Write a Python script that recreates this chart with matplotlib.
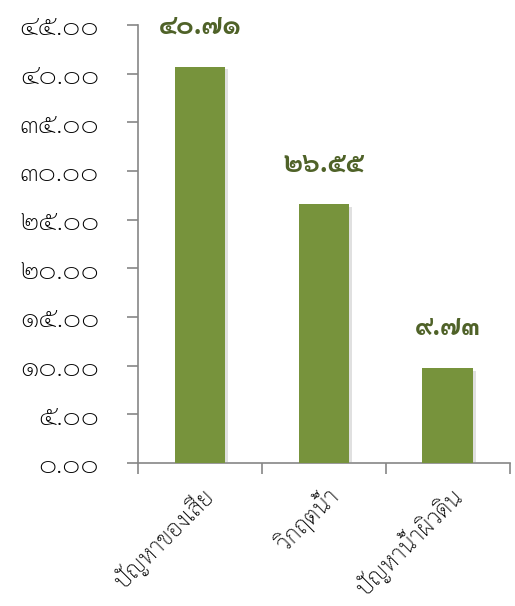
import matplotlib
matplotlib.use("Agg")
import numpy as np
import matplotlib.pyplot as plt
import matplotlib.ticker as mticker
import matplotlib.patheffects as pe
import matplotlib.transforms as mtransforms

categories = ["ปัญหาของเสีย", "วิกฤตน้ำ", "ปัญหาน้ำผิวดิน"]
values = [40.71, 26.55, 9.73]
yticks = [0, 5, 10, 15, 20, 25, 30, 35, 40, 45]

THAI = str.maketrans("0123456789", "๐๑๒๓๔๕๖๗๘๙")

def thai_num(v, fmt):
    return (fmt % v).translate(THAI)

plt.rcParams['font.family'] = ['Sarabun', 'DejaVu Sans']

fig = plt.figure(figsize=(5.15, 6.06), dpi=100)
ax = fig.add_axes([0.268, 0.236, 0.722, 0.723])

x = np.arange(len(categories))
bars = ax.bar(x, values, width=0.41, color='#77933C', zorder=3)
for b in bars:
    b.set_path_effects([pe.SimplePatchShadow(offset=(2, -2), shadow_rgbFace='#999999', alpha=0.3),
                        pe.Normal()])

for xi, v in zip(x, values):
    ax.annotate(thai_num(v, '%.2f'), (xi, v), xytext=(0, 29), textcoords='offset points',
                ha='center', va='center', fontsize=19, fontweight='bold', color='#4F6228')

ax.set_xlim(-0.5, 2.5)
ax.set_ylim(0, 45)

ax.yaxis.set_major_locator(mticker.FixedLocator(yticks))
ax.yaxis.set_major_formatter(mticker.FuncFormatter(lambda v, p: thai_num(v, '%.2f')))

ax.set_xticks(x)
ax.set_xticklabels(categories, rotation=45, ha='right', va='top', rotation_mode='anchor',
                   fontweight='light')
ax.xaxis.set_minor_locator(mticker.FixedLocator([-0.5, 0.5, 1.5, 2.5]))
shift = mtransforms.ScaledTranslation(-16 / 72, 0, fig.dpi_scale_trans)
for lbl in ax.get_xticklabels():
    lbl.set_transform(lbl.get_transform() + shift)

for s in ['top', 'right']:
    ax.spines[s].set_visible(False)
for s in ['left', 'bottom']:
    ax.spines[s].set_color('#868686')
    ax.spines[s].set_linewidth(1.2)

ax.tick_params(axis='y', length=8, width=1.2, color='#868686', pad=20, labelsize=20)
for lbl in ax.get_yticklabels():
    lbl.set_fontweight('light')
ax.tick_params(axis='x', which='major', length=0, pad=14, labelsize=17)
ax.tick_params(axis='x', which='minor', length=8, width=1.2, color='#868686')

fig.savefig("out.png", dpi=100)
